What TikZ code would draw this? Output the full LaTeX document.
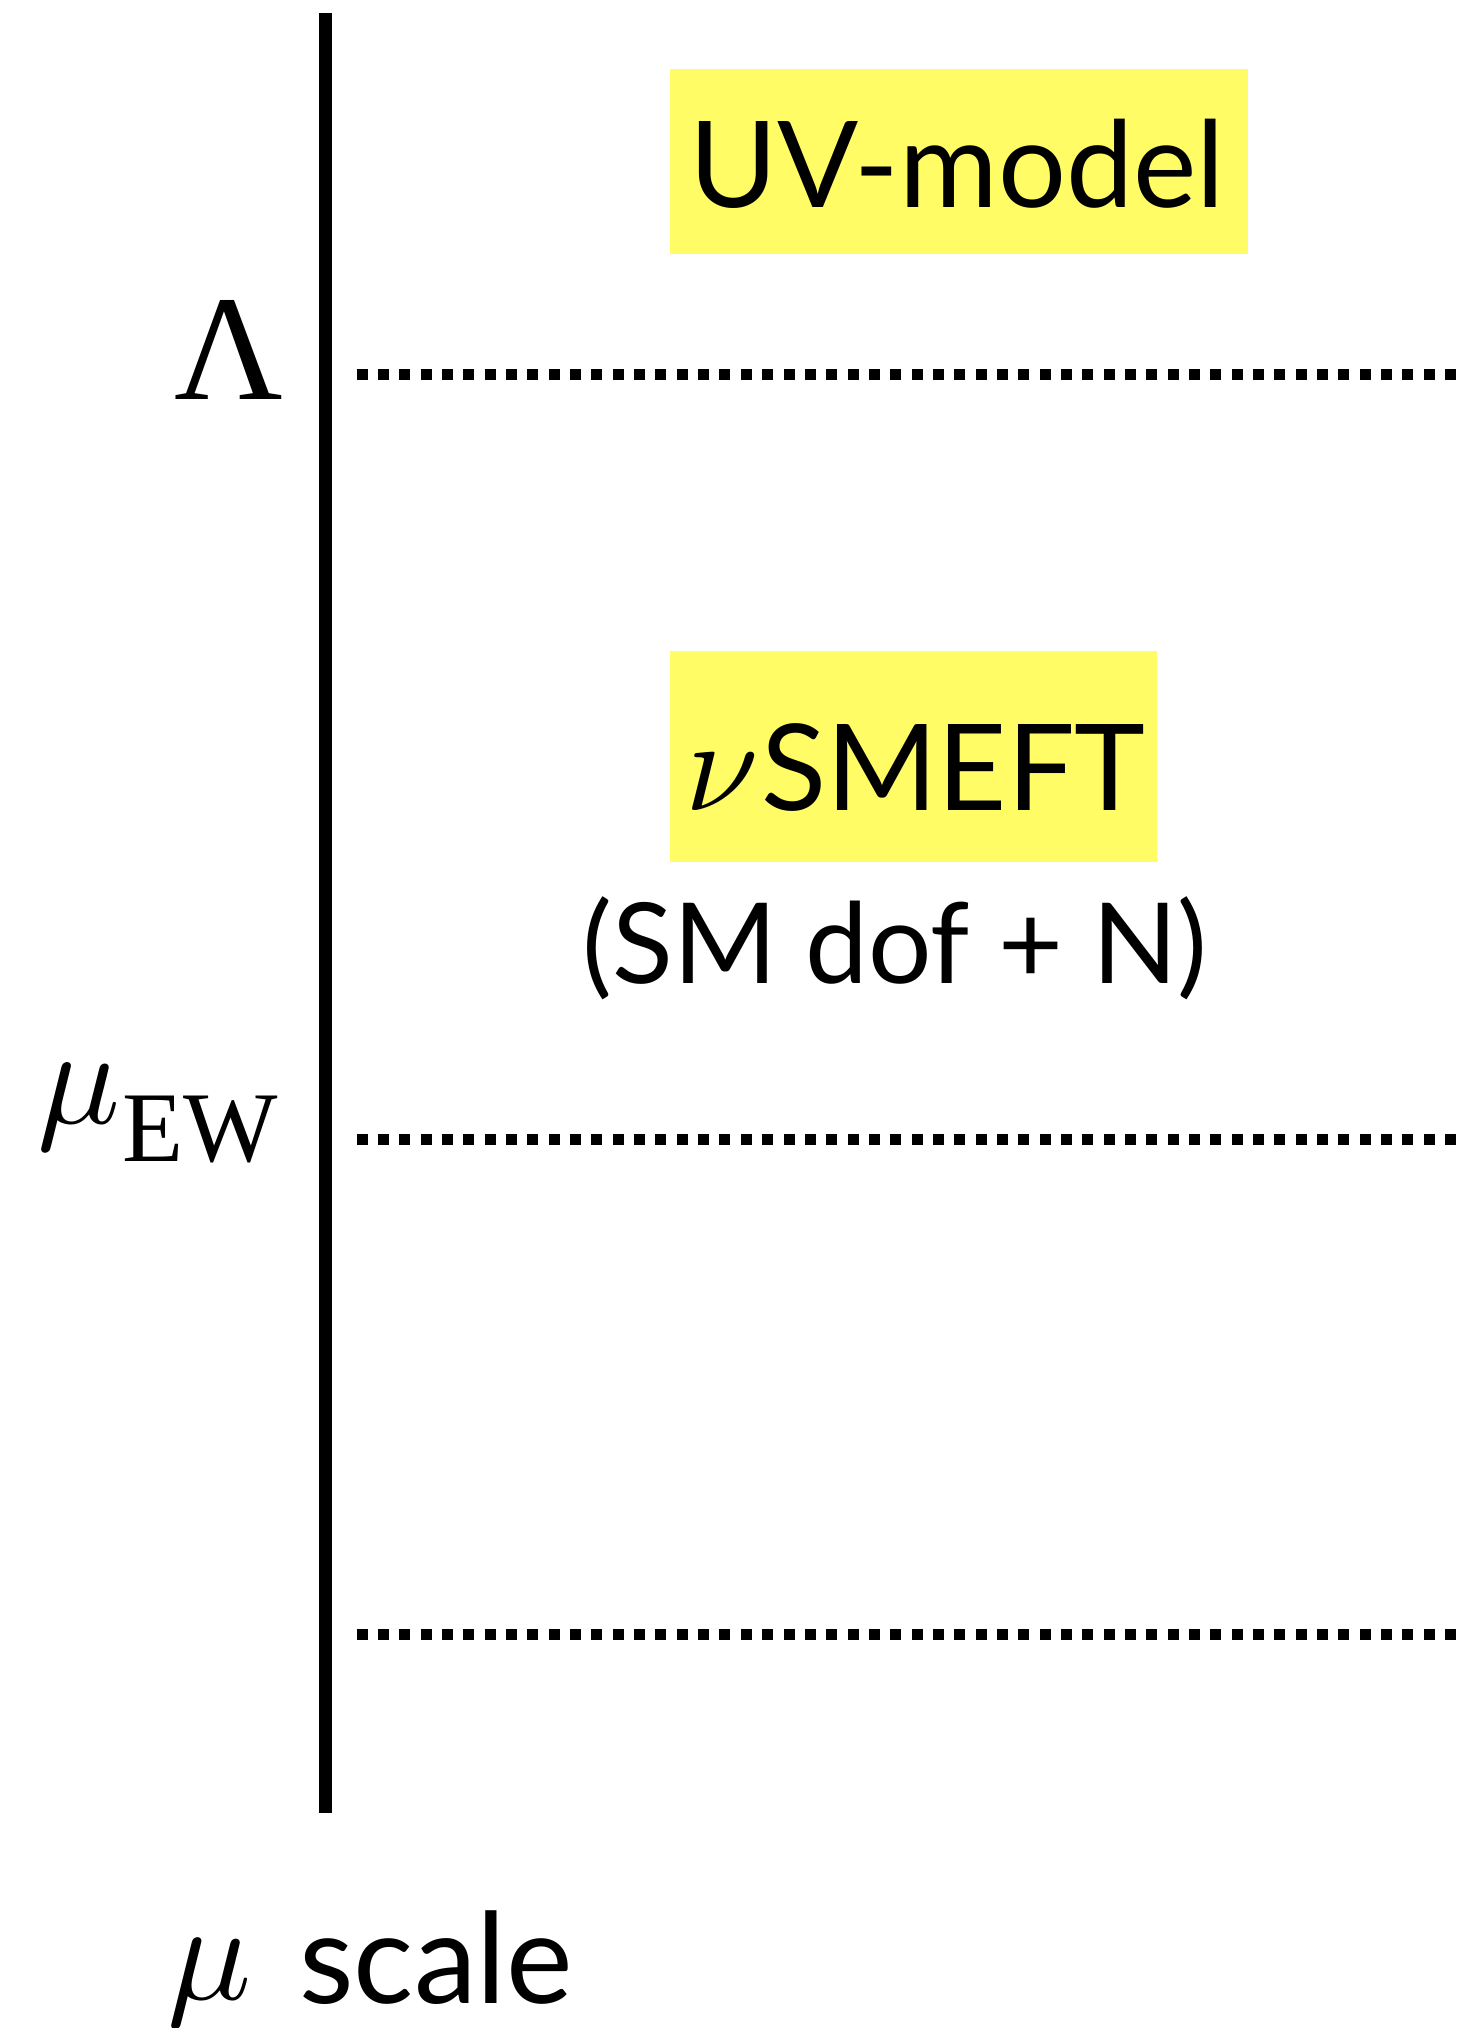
\documentclass[tikz,border=0pt]{standalone}
\usepackage{graphicx}
\usepackage{fontspec}
\newfontfamily\labelfont{Lato}
\newfontfamily\tnr{Liberation Serif}
\definecolor{boxyellow}{RGB}{255,252,102}
\newcommand{\bigsym}[2]{\scalebox{#1}{\normalsize$#2$}}
\tikzset{
  scaleaxis/.style={line width=6.5pt},
  levelline/.style={line width=5.5pt, dash pattern=on 5.5pt off 5.17pt},
  ebox/.style={fill=boxyellow, draw=none},
  lbl/.style={inner sep=0pt, font=\labelfont},
  mathlbl/.style={inner sep=0pt, font=\tnr},
}
\begin{document}
\begin{tikzpicture}[x=0.5pt,y=-0.5pt]
\useasboundingbox (0,0) rectangle (1457,2028);
% axis
\coordinate (axtop) at (325,13);
\coordinate (axbot) at (325,1813);
\draw[scaleaxis] (axtop) -- (axbot);
% levels
\coordinate (l1a) at (356.7,374.5);
\coordinate (l1b) at (1457,374.5);
\coordinate (l2a) at (356.7,1139);
\coordinate (l2b) at (1457,1139);
\coordinate (l3a) at (356.7,1634);
\coordinate (l3b) at (1457,1634);
\draw[levelline] (l1a) -- (l1b);
\draw[levelline] (l2a) -- (l2b);
\draw[levelline] (l3a) -- (l3b);
% boxes
\fill[ebox] (670,69) rectangle (1248,254);
\fill[ebox] (670,651) rectangle (1157,862);
\node[lbl, anchor=base, font=\labelfont\fontsize{60pt}{60pt}\selectfont] (uv) at (957,208) {UV-model};
\node[lbl, anchor=base west, font=\labelfont\fontsize{60pt}{60pt}\selectfont] (smeft) at (685,810) {\bigsym{6.6}{\nu}\kern1pt SMEFT};
\node[lbl, anchor=base, font=\labelfont\fontsize{56pt}{56pt}\selectfont] (dof) at (895,983) {(SM dof + N)};
% scale labels
\node[mathlbl, anchor=base west, font=\tnr\fontsize{75pt}{75pt}\selectfont] (lam) at (174,399) {Λ};
\node[mathlbl, anchor=base west, font=\tnr\fontsize{50pt}{50pt}\selectfont] (muew) at (37,1123) {\bigsym{6.9}{\mu}\kern1pt\raisebox{-19pt}{EW}};
\node[mathlbl, anchor=base west] (mu) at (167,1999) {\bigsym{7.0}{\mu}};
\node[lbl, anchor=base west, font=\labelfont\fontsize{63pt}{63pt}\selectfont] (scale) at (299,2003) {scale};
\end{tikzpicture}
\end{document}
